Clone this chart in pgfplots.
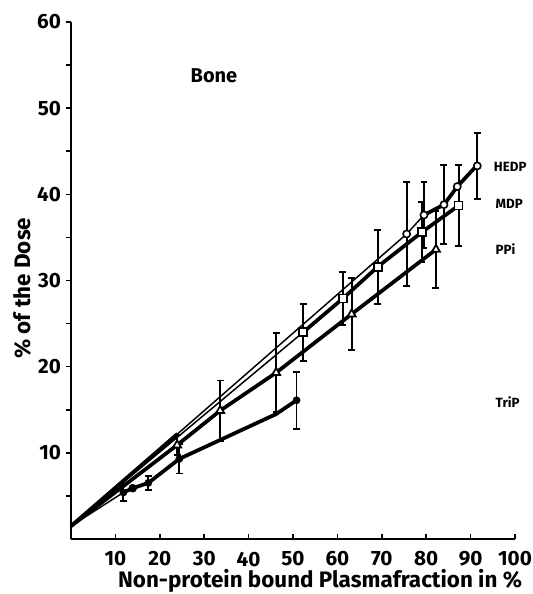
\documentclass[border=0pt]{standalone}
\usepackage{pgfplots}
\pgfplotsset{compat=1.18}
\usepackage{fontspec}
\setmainfont{Fira Sans}

\begin{document}
\begin{tikzpicture}[x=1pt,y=1pt]
\useasboundingbox (-53.25,-41.25) rectangle (346.5,404.25);
\begin{axis}[at={(0,0)},anchor=south west,
  scale only axis,width=333pt,height=387.75pt,
  xmin=0,xmax=100,ymin=0,ymax=60,clip=false,
  axis x line*=bottom,axis y line*=left,
  axis line style={line width=1.4pt,-},
  xtick={10,20,...,100},ytick={10,20,...,60},minor ytick={5,15,...,55},
  xtick align=inside,ytick align=outside,
  major tick length=4pt,minor tick length=4pt,
  tick style={line width=1.2pt,black},
  /pgf/number format/assume math mode=true,
  ticklabel style={font=\fontsize{15.5}{15.5}\selectfont\bfseries},
  xticklabel style={yshift=-6pt},
  xlabel={Non-protein bound Plasmafraction in \%},
  ylabel={\% of the Dose},
  label style={font=\fontsize{16.8}{17}\selectfont\bfseries},
  xlabel style={at={(axis description cs:0.561,0)},anchor=center,yshift=-31.5pt},
  ylabel style={at={(axis description cs:0,0.485)},anchor=center,yshift=36.75pt},
  thickl/.style={line width=2.8pt,black},
  thinl/.style={line width=1.1pt,black},
  ebar/.style={only marks,black,
    error bars/.cd,y dir=both,y explicit,
    error bar style={line width=1.4pt,black},
    error mark options={rotate=90,line width=1.4pt,mark size=2.6pt,black}},
]
% connecting lines
\addplot[thickl] coordinates {(0,1.5)(24,12.2)};
\addplot[thinl] coordinates {(24,12.2)(75.6,35.4)(79.5,37.6)};
\addplot[thickl] coordinates {(79.5,37.6)(84,38.8)(87,40.9)(91.5,43.4)};
\addplot[thinl] coordinates {(0,1.5)(52.3,24.0)};
\addplot[thickl] coordinates {(52.3,24.0)(61.2,27.9)(69.1,31.6)(79,35.6)(87.3,38.7)};
\addplot[thickl] coordinates {(0,1.5)(23.9,10.9)(33.6,14.9)(46.2,19.3)(63.2,26.1)(82.2,33.6)};
\addplot[thinl] coordinates {(0,1.5)(11.8,5.4)};
\addplot[thickl] coordinates {(11.8,5.4)(13.9,5.9)(17.4,6.5)(24.4,9.3)(46.2,14.5)(50.8,16.1)};
% HEDP, open circles
\addplot[mark=*,mark size=2.7pt,mark options={line width=1.2pt,fill=white,draw=black},ebar]
  table[y error=e] {
x y e
75.6 35.4 6.0
79.5 37.6 3.8
84.0 38.8 4.6
91.5 43.3 3.8
};
\addplot[only marks,mark=*,mark size=2.7pt,mark options={line width=1.2pt,fill=white,draw=black}]
  coordinates {(87,40.9)};
% MDP, open squares
\addplot[mark=square*,mark size=3.0pt,mark options={line width=1.3pt,fill=white,draw=black},ebar]
  table[y error=e] {
x y e
52.3 24.0 3.3
61.2 27.9 3.1
69.1 31.6 4.3
79.0 35.6 3.5
87.3 38.7 4.7
};
% PPi, open triangles
\addplot[mark=triangle*,mark size=3.5pt,mark options={line width=1.3pt,fill=white,draw=black},ebar]
  table[y error=e] {
x y e
23.9 10.9 1.2
33.6 14.9 3.5
46.2 19.3 4.6
63.2 26.1 4.2
82.2 33.6 4.5
};
% TriP, filled circles
\addplot[mark=*,mark size=2.7pt,mark options={fill=black,draw=black},ebar]
  table[y error=e] {
x y e
11.8 5.4 1.0
17.4 6.5 0.8
24.4 9.3 1.7
50.8 16.1 3.3
};
\addplot[only marks,mark=*,mark size=3.0pt,mark options={fill=black,draw=black}]
  coordinates {(13.9,5.9)};
% labels
\node[anchor=center,font=\fontsize{15}{15}\selectfont\bfseries] at (axis cs:32.2,53.8) {Bone};
\node[anchor=west,inner sep=0pt,font=\fontsize{10}{10}\selectfont\bfseries] at (axis cs:95.2,43.2) {HEDP};
\node[anchor=west,inner sep=0pt,font=\fontsize{10}{10}\selectfont\bfseries] at (axis cs:95.6,38.9) {MDP};
\node[anchor=west,inner sep=0pt,font=\fontsize{10}{10}\selectfont\bfseries] at (axis cs:95.6,33.6) {PPi};
\node[anchor=west,inner sep=0pt,font=\fontsize{10}{10}\selectfont\bfseries] at (axis cs:95.6,15.9) {TriP};
\end{axis}
\end{tikzpicture}
\end{document}
